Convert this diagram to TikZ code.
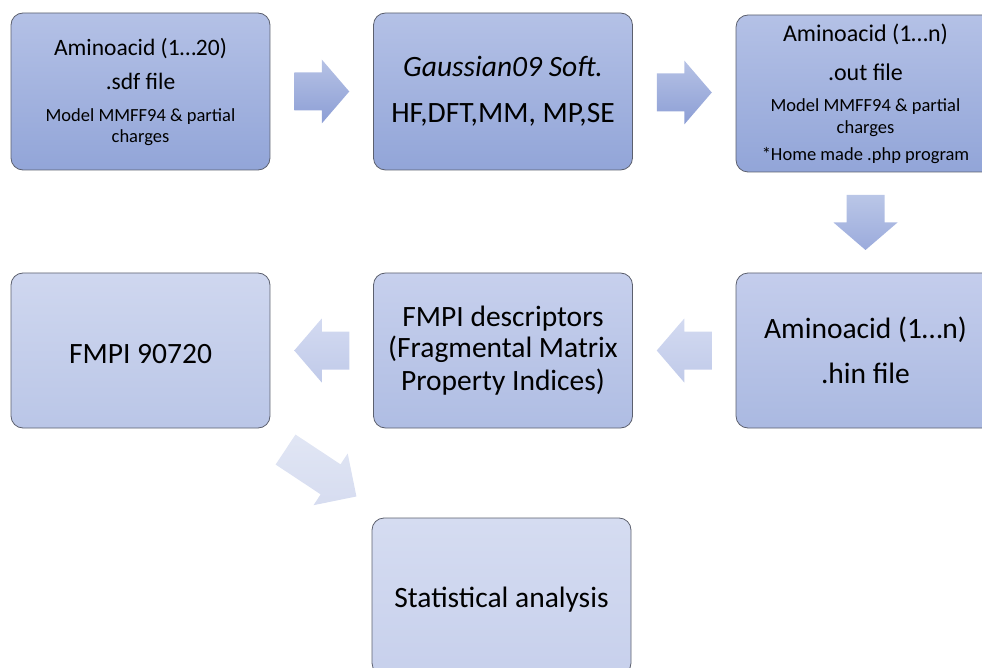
\documentclass[tikz,border=0pt]{standalone}
\usepackage{fontspec}
\setmainfont{Carlito}
\usetikzlibrary{calc}
\definecolor{boxline}{RGB}{92,96,110}
\definecolor{aTop}{RGB}{180,193,230}
\definecolor{aBot}{RGB}{146,165,216}
\definecolor{fTop}{RGB}{196,205,236}
\definecolor{fBot}{RGB}{170,185,225}
\definecolor{eTop}{RGB}{199,208,237}
\definecolor{eBot}{RGB}{175,189,227}
\definecolor{dTop}{RGB}{207,215,239}
\definecolor{dBot}{RGB}{186,198,231}
\definecolor{gTop}{RGB}{213,220,241}
\definecolor{gBot}{RGB}{199,208,236}
\definecolor{raTop}{RGB}{182,194,229}
\definecolor{raBot}{RGB}{140,158,213}
\definecolor{daTop}{RGB}{186,198,231}
\definecolor{daBot}{RGB}{155,171,220}
\definecolor{laTop}{RGB}{211,218,241}
\definecolor{laBot}{RGB}{192,202,233}
\definecolor{xaTop}{RGB}{225,230,244}
\definecolor{xaBot}{RGB}{214,220,240}
\tikzset{
  box/.style={rectangle, rounded corners=12pt, draw=boxline, line width=0.8pt,
    minimum width=259pt, minimum height=157pt, inner sep=0pt, align=center, text=black},
  shA/.style={top color=aTop, bottom color=aBot},
  shD/.style={top color=dTop, bottom color=dBot},
  shE/.style={top color=eTop, bottom color=eBot},
  shF/.style={top color=fTop, bottom color=fBot},
  shG/.style={top color=gTop, bottom color=gBot},
  arrR/.style={top color=raTop, bottom color=raBot},
  arrD/.style={top color=daTop, bottom color=daBot},
  arrL/.style={top color=laTop, bottom color=laBot},
  arrX/.style={top color=xaTop, bottom color=xaBot},
  blockfill/.style={},
  arrlen/.store in=\arrlen, arrlen=55,
  arrhead/.store in=\arrhead, arrhead=27.5,
  arrbody/.store in=\arrbody, arrbody=19,
  arrwing/.store in=\arrwing, arrwing=32,
  blockarrow/.pic={
    \path[blockfill] (-\arrlen/2,-\arrbody) -- (\arrlen/2-\arrhead,-\arrbody)
      -- (\arrlen/2-\arrhead,-\arrwing) -- (\arrlen/2,0)
      -- (\arrlen/2-\arrhead,\arrwing) -- (\arrlen/2-\arrhead,\arrbody)
      -- (-\arrlen/2,\arrbody) -- cycle;
  }
}
\begin{document}
\begin{tikzpicture}[x=1pt,y=-1pt]
\useasboundingbox (0,0) rectangle (982,668);
\clip (0,0) rectangle (982,668);
% top row
\node[box, shA, font=\fontsize{23.5}{28}\selectfont] (b1) at (140.5,91.5)
  {\raisebox{-2pt}{Aminoacid (1…20)}\\[8pt] .sdf file\\[4pt]
   \fontsize{18.5}{22}\selectfont Model MMFF94 \& partial\\[-7pt]
   \fontsize{18.5}{22}\selectfont charges};
\node[box, shA, font=\fontsize{29.5}{35}\selectfont] (b2) at (503,91.5)
  {\textit{Gaussian09 Soft.}\\[11pt] HF,DFT,MM, MP,SE};
\node[box, shA, font=\fontsize{24}{28}\selectfont] (b3) at (865.5,93.5)
  {Aminoacid (1…n)\\[11pt] .out file\\[3pt]
   \fontsize{18.5}{22}\selectfont Model MMFF94 \& partial\\[-6pt]
   \fontsize{18.5}{22}\selectfont charges\\[-1pt]
   \fontsize{18.5}{22}\selectfont *Home made .php program};
% second row
\node[box, shD, minimum height=155pt, font=\fontsize{29.5}{35}\selectfont] (b4) at (140.5,350.5)
  {\raisebox{-12.5pt}[0pt][0pt]{FMPI 90720}};
\node[box, shE, minimum height=155pt, font=\fontsize{29.5}{33}\selectfont] (b5) at (503,350.5)
  {\raisebox{-1.5pt}{FMPI descriptors}\\ (Fragmental Matrix\\ Property Indices)};
\node[box, shF, minimum height=155pt, font=\fontsize{29.5}{33}\selectfont] (b6) at (865.5,350.5)
  {\raisebox{1.5pt}{Aminoacid (1…n)}\\[10pt] .hin file};
% bottom
\node[box, shG, font=\fontsize{29.5}{35}\selectfont] (b7) at (501.5,596.5)
  {\raisebox{-10.5pt}[0pt][0pt]{Statistical analysis}};
% block arrows
\path ($(b1.east)!0.5!(b2.west)$) pic[blockfill/.style={arrR}] {blockarrow};
\path ($(b2.east)!0.5!(b3.west)$) pic[blockfill/.style={arrR}] {blockarrow};
\path ($(b3.south)!0.5!(b6.north)$) pic[blockfill/.style={arrD}, rotate=-90] {blockarrow};
\path ($(b6.west)!0.5!(b5.east)$) pic[blockfill/.style={arrL}, rotate=180] {blockarrow};
\path ($(b5.west)!0.5!(b4.east)$) pic[blockfill/.style={arrL}, rotate=180] {blockarrow};
\path ($(b4.south east)!0.5!(b7.north west)$) pic[blockfill/.style={arrX}, rotate=-33.5,
  arrlen=85, arrhead=31, arrbody=18, arrwing=31] {blockarrow};
\end{tikzpicture}
\end{document}
